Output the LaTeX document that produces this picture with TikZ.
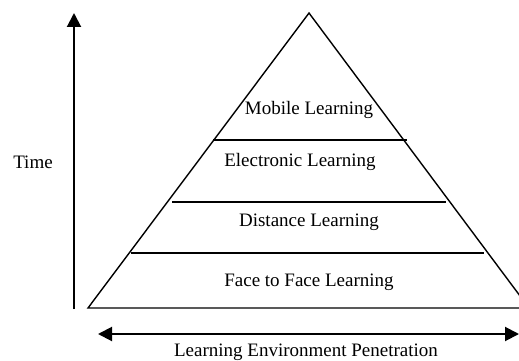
\documentclass[tikz,border=0pt]{standalone}
\usepackage{fontspec}
\setmainfont{Liberation Serif}
\usetikzlibrary{arrows.meta}
\begin{document}
\begin{tikzpicture}[x=1pt,y=-1pt,
  lbl/.style={font=\fontsize{19}{23}\selectfont, inner sep=0pt},
  side/.style={line width=1.4pt},
  divider/.style={line width=2.2pt},
  axis/.style={line width=2pt, -{Triangle[length=14pt,width=14pt]}}]
\useasboundingbox (0,0) rectangle (519,361);
\clip (0,0) rectangle (519,361);
% triangle
\coordinate (apex) at (309,13);
\coordinate (bl) at (88,308);
\coordinate (br) at (529,308);
\draw[side] (bl) -- (apex) -- (br) -- cycle;
% dividers
\coordinate (d1l) at (213,140); \coordinate (d1r) at (407,140);
\coordinate (d2l) at (172,202); \coordinate (d2r) at (446,202);
\coordinate (d3l) at (131,253); \coordinate (d3r) at (484,253);
\draw[divider] (d1l) -- (d1r);
\draw[divider] (d2l) -- (d2r);
\draw[divider] (d3l) -- (d3r);
% labels
\node[lbl] (mob) at (309,110) {Mobile Learning};
\node[lbl] (ele) at (300,162) {Electronic Learning};
\node[lbl] (dis) at (309,222) {Distance Learning};
\node[lbl] (f2f) at (309,282) {Face to Face Learning};
% axes
\coordinate (tb) at (74,309);
\coordinate (tt) at (74,13);
\draw[axis] (tb) -- (tt);
\node[lbl] (time) at (33,162) {Time};
\coordinate (hl) at (98,334);
\coordinate (hr) at (519,334);
\draw[line width=2pt, {Triangle[length=14pt,width=14pt]}-{Triangle[length=14pt,width=14pt]}] (hl) -- (hr);
\node[lbl, anchor=base] (lep) at (306,356) {Learning Environment Penetration};
\end{tikzpicture}
\end{document}
